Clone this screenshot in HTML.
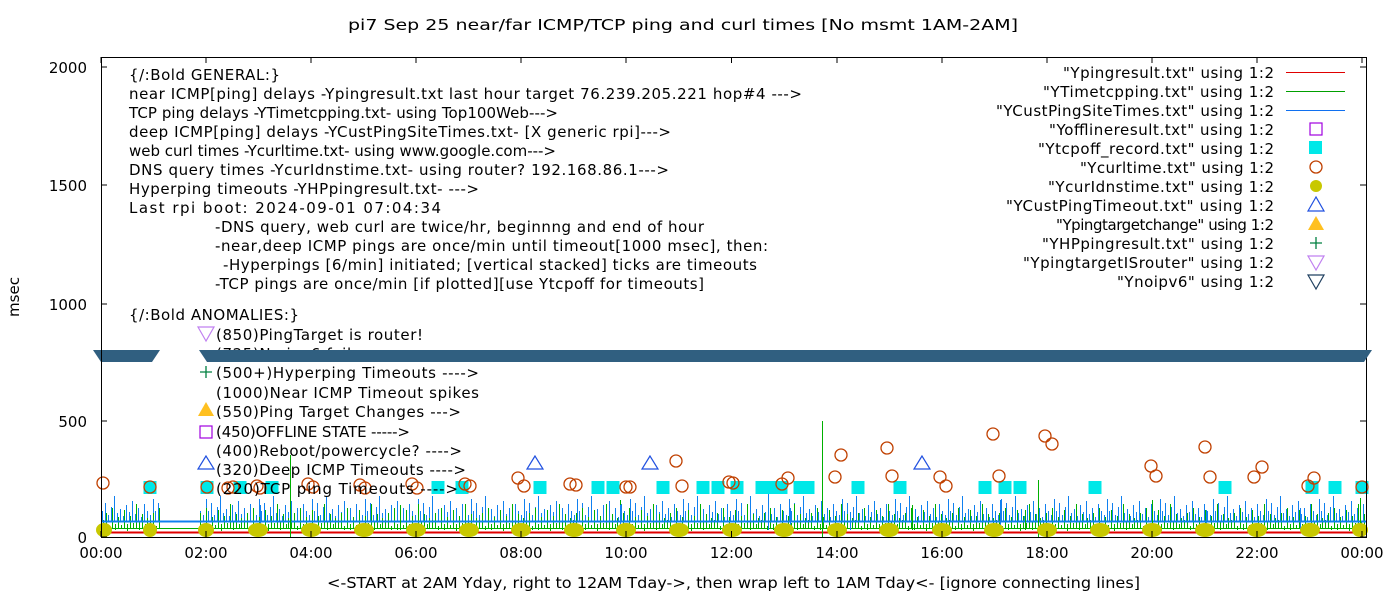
<!DOCTYPE html>
<html><head><meta charset="utf-8"><style>
body{margin:0;background:#fff;}
svg{display:block;font-family:"DejaVu Sans","Liberation Sans",sans-serif;}
text{font-size:15px;fill:#000;}
</style></head><body>
<svg width="1400" height="600" xmlns="http://www.w3.org/2000/svg">
<defs>
<pattern id="pb" patternUnits="userSpaceOnUse" x="101" y="0" width="53" height="600">
<path shape-rendering="crispEdges" d="M1.5,521v-10M4.5,521v-18M7.5,521v-6M10.5,521v-14M13.5,521v-25M16.5,521v-8M19.5,521v-12M22.5,521v-5M25.5,521v-16M28.5,521v-9M31.5,521v-20M34.5,521v-7M37.5,521v-13M40.5,521v-4M43.5,521v-17M46.5,521v-10M49.5,521v-6M52.5,521v-22" stroke="#1080f0" stroke-width="1"/>
</pattern>
<pattern id="pg" patternUnits="userSpaceOnUse" x="101" y="0" width="47" height="600">
<path shape-rendering="crispEdges" d="M2.5,528v-8M5.5,528v-15M8.5,530v-4M11.5,528v-20M14.5,530v-6M17.5,528v-11M20.5,528v-3M23.5,528v-18M26.5,531v-7M29.5,528v-12M32.5,528v-5M35.5,528v-24M38.5,530v-9M41.5,528v-14M44.5,528v-4M46.5,528v-10" stroke="#00b000" stroke-width="1"/>
</pattern>
</defs>
<rect width="1400" height="600" fill="#fff"/>
<text x="348" y="30" textLength="670" lengthAdjust="spacingAndGlyphs">pi7 Sep 25  near/far ICMP/TCP ping and curl times [No msmt 1AM-2AM]</text>
<text x="327" y="588" textLength="813" lengthAdjust="spacingAndGlyphs">&lt;-START at 2AM Yday, right to 12AM Tday-&gt;, then wrap left to 1AM Tday&lt;- [ignore connecting lines]</text>
<text transform="translate(19,297) rotate(-90)" text-anchor="middle">msec</text>

<rect x="101" y="480" width="59" height="57" fill="url(#pb)"/>
<rect x="199" y="480" width="1167" height="57" fill="url(#pb)"/>
<rect x="101" y="480" width="59" height="57" fill="url(#pg)"/>
<rect x="199" y="480" width="1167" height="57" fill="url(#pg)"/>
<g shape-rendering="crispEdges">
<line x1="101" y1="521.5" x2="1366" y2="521.5" stroke="#1080f0" stroke-width="2"/>
<line x1="101" y1="528.5" x2="1366" y2="528.5" stroke="#00b000" stroke-width="1"/>
<line x1="101" y1="532.5" x2="1366" y2="532.5" stroke="#e00000" stroke-width="2"/>
<path d="M822.5,537V421M290.5,537V455M1360.5,537V498M1038.5,537V480M1152.5,530V500M620.5,530V500M400.5,530V505M912.5,530V505M1025.5,530V510" stroke="#00b000"/>
<path d="M768.5,530V492M1000.5,530V500M790.5,530V508M1300.5,530V508M1206.5,530V510M850.5,530V512M620.5,530V505M260.5,530V505" stroke="#1080f0"/>
</g>
<g fill="#c8c800">
<ellipse cx="104" cy="530" rx="8" ry="7"/><ellipse cx="150" cy="530" rx="7" ry="7"/><ellipse cx="206" cy="530" rx="8" ry="7"/>
<ellipse cx="258" cy="530" rx="10" ry="7"/><ellipse cx="311" cy="530" rx="10" ry="7"/><ellipse cx="364" cy="530" rx="10" ry="7"/>
<ellipse cx="416" cy="530" rx="10" ry="7"/><ellipse cx="469" cy="530" rx="10" ry="7"/><ellipse cx="521" cy="530" rx="10" ry="7"/>
<ellipse cx="574" cy="530" rx="10" ry="7"/><ellipse cx="626" cy="530" rx="10" ry="7"/><ellipse cx="679" cy="530" rx="10" ry="7"/>
<ellipse cx="732" cy="530" rx="10" ry="7"/><ellipse cx="784" cy="530" rx="10" ry="7"/><ellipse cx="837" cy="530" rx="10" ry="7"/>
<ellipse cx="889" cy="530" rx="10" ry="7"/><ellipse cx="942" cy="530" rx="10" ry="7"/><ellipse cx="994" cy="530" rx="10" ry="7"/>
<ellipse cx="1047" cy="530" rx="10" ry="7"/><ellipse cx="1100" cy="530" rx="10" ry="7"/><ellipse cx="1152" cy="530" rx="10" ry="7"/>
<ellipse cx="1205" cy="530" rx="10" ry="7"/><ellipse cx="1257" cy="530" rx="10" ry="7"/><ellipse cx="1310" cy="530" rx="10" ry="7"/>
<ellipse cx="1360" cy="530" rx="8" ry="7"/>
</g>
<g fill="#00e8e8">
<rect x="143.5" y="481" width="13" height="13"/><rect x="200.5" y="481" width="13" height="13"/><rect x="233.5" y="481" width="13" height="13"/><rect x="265.5" y="481" width="13" height="13"/><rect x="431.5" y="481" width="13" height="13"/><rect x="455.5" y="481" width="13" height="13"/><rect x="533.5" y="481" width="13" height="13"/><rect x="591.5" y="481" width="13" height="13"/><rect x="606.5" y="481" width="13" height="13"/><rect x="656.5" y="481" width="13" height="13"/><rect x="696.5" y="481" width="13" height="13"/><rect x="711.5" y="481" width="13" height="13"/><rect x="730.5" y="481" width="13" height="13"/><rect x="755.5" y="481" width="13" height="13"/><rect x="761.5" y="481" width="13" height="13"/><rect x="774.5" y="481" width="13" height="13"/><rect x="793.5" y="481" width="13" height="13"/><rect x="801.5" y="481" width="13" height="13"/><rect x="851.5" y="481" width="13" height="13"/><rect x="893.5" y="481" width="13" height="13"/><rect x="978.5" y="481" width="13" height="13"/><rect x="998.5" y="481" width="13" height="13"/><rect x="1013.5" y="481" width="13" height="13"/><rect x="1088.5" y="481" width="13" height="13"/><rect x="1218.5" y="481" width="13" height="13"/><rect x="1305.5" y="481" width="13" height="13"/><rect x="1328.5" y="481" width="13" height="13"/><rect x="1355.5" y="481" width="13" height="13"/>
</g>
<g fill="none" stroke="#c04000" stroke-width="1.3">
<circle cx="103" cy="483" r="6"/><circle cx="150" cy="487" r="6"/><circle cx="207" cy="487" r="6"/><circle cx="228" cy="488" r="6"/><circle cx="233" cy="487" r="6"/><circle cx="257" cy="486" r="6"/><circle cx="260" cy="488" r="6"/><circle cx="308" cy="484" r="6"/><circle cx="313" cy="487" r="6"/><circle cx="360" cy="485" r="6"/><circle cx="365" cy="488" r="6"/><circle cx="412" cy="484" r="6"/><circle cx="417" cy="488" r="6"/><circle cx="465" cy="484" r="6"/><circle cx="470" cy="486" r="6"/><circle cx="518" cy="478" r="6"/><circle cx="524" cy="486" r="6"/><circle cx="570" cy="484" r="6"/><circle cx="576" cy="485" r="6"/><circle cx="626" cy="487" r="6"/><circle cx="630" cy="487" r="6"/><circle cx="676" cy="461" r="6"/><circle cx="682" cy="486" r="6"/><circle cx="729" cy="482" r="6"/><circle cx="733" cy="483" r="6"/><circle cx="782" cy="484" r="6"/><circle cx="788" cy="478" r="6"/><circle cx="835" cy="477" r="6"/><circle cx="841" cy="455" r="6"/><circle cx="887" cy="448" r="6"/><circle cx="892" cy="476" r="6"/><circle cx="940" cy="477" r="6"/><circle cx="946" cy="486" r="6"/><circle cx="993" cy="434" r="6"/><circle cx="999" cy="476" r="6"/><circle cx="1045" cy="436" r="6"/><circle cx="1052" cy="444" r="6"/><circle cx="1151" cy="466" r="6"/><circle cx="1156" cy="476" r="6"/><circle cx="1205" cy="447" r="6"/><circle cx="1210" cy="477" r="6"/><circle cx="1254" cy="477" r="6"/><circle cx="1262" cy="467" r="6"/><circle cx="1308" cy="486" r="6"/><circle cx="1314" cy="478" r="6"/><circle cx="1362" cy="487" r="6"/>
</g>
<g fill="none" stroke="#2050e0" stroke-width="1.2">
<polygon points="535,456 527,469 543,469"/><polygon points="650,456 642,469 658,469"/><polygon points="922,456 914,469 930,469"/>
</g>
<polygon points="93,350 160,350 152,362 101,362" fill="#305f80"/>

<rect x="101.5" y="57.5" width="1265" height="480" fill="none" stroke="#000"/>
<path d="M101,537h6M101,421h6M101,304h6M101,185h6M101,67h6M1366,537h-6M1366,421h-6M1366,304h-6M1366,185h-6M1366,67h-6
M101,537v-6M206,537v-6M311,537v-6M416,537v-6M521,537v-6M626,537v-6M731.5,537v-6M837,537v-6M942,537v-6M1047,537v-6M1152,537v-6M1257,537v-6M1362,537v-6
M101,57v6M206,57v6M311,57v6M416,57v6M521,57v6M626,57v6M731.5,57v6M837,57v6M942,57v6M1047,57v6M1152,57v6M1257,57v6M1362,57v6" stroke="#000"/>
<g text-anchor="end">
<text x="87" y="73">2000</text><text x="87" y="191">1500</text><text x="87" y="310">1000</text><text x="87" y="427">500</text><text x="87" y="543">0</text>
</g>
<g text-anchor="middle">
<text x="101" y="558">00:00</text><text x="206" y="558">02:00</text><text x="311" y="558">04:00</text><text x="416" y="558">06:00</text><text x="521" y="558">08:00</text><text x="626" y="558">10:00</text><text x="731.5" y="558">12:00</text><text x="837" y="558">14:00</text><text x="942" y="558">16:00</text><text x="1047" y="558">18:00</text><text x="1152" y="558">20:00</text><text x="1257" y="558">22:00</text><text x="1362" y="558">00:00</text>
</g>

<g lengthAdjust="spacingAndGlyphs">
<text x="129" y="80" textLength="151">{/:Bold GENERAL:}</text>
<text x="129" y="99" textLength="673">near ICMP[ping] delays -Ypingresult.txt last hour target 76.239.205.221 hop#4 ---&gt;</text>
<text x="129" y="118" textLength="429">TCP ping delays -YTimetcpping.txt- using Top100Web---&gt;</text>
<text x="129" y="137" textLength="542">deep ICMP[ping] delays -YCustPingSiteTimes.txt- [X generic rpi]---&gt;</text>
<text x="129" y="156" textLength="427">web curl times -Ycurltime.txt- using www.google.com---&gt;</text>
<text x="129" y="175" textLength="540">DNS query times -YcurIdnstime.txt- using router? 192.168.86.1---&gt;</text>
<text x="129" y="194" textLength="350">Hyperping timeouts -YHPpingresult.txt- ---&gt;</text>
<text x="129" y="213" textLength="312">Last rpi boot: 2024-09-01 07:04:34</text>
<text x="215" y="232" textLength="489">-DNS query, web curl are twice/hr, beginnng and end of hour</text>
<text x="215" y="251" textLength="553">-near,deep ICMP pings are once/min until timeout[1000 msec], then:</text>
<text x="223" y="270" textLength="534">-Hyperpings [6/min] initiated; [vertical stacked] ticks are timeouts</text>
<text x="215" y="289" textLength="489">-TCP pings are once/min [if plotted][use Ytcpoff for timeouts]</text>
<text x="129" y="320" textLength="170">{/:Bold ANOMALIES:}</text>
<text x="216" y="340" textLength="207">(850)PingTarget is router!</text>
<text x="216" y="359" textLength="170">(725)No ipv6 failures</text>
<text x="216" y="378" textLength="263">(500+)Hyperping Timeouts ----&gt;</text>
<text x="216" y="398" textLength="263">(1000)Near ICMP Timeout spikes</text>
<text x="216" y="417" textLength="245">(550)Ping Target Changes ---&gt;</text>
<text x="216" y="437" textLength="194">(450)OFFLINE STATE -----&gt;</text>
<text x="216" y="456" textLength="246">(400)Reboot/powercycle? ----&gt;</text>
<text x="216" y="475" textLength="250">(320)Deep ICMP Timeouts ----&gt;</text>
<text x="216" y="494" textLength="242">(220)TCP ping Timeouts ----&gt;</text>
</g>
<g lengthAdjust="spacingAndGlyphs">
<text x="1063" y="78" textLength="211">"Ypingresult.txt" using 1:2</text>
<text x="1043" y="97" textLength="231">"YTimetcpping.txt" using 1:2</text>
<text x="996" y="116" textLength="278">"YCustPingSiteTimes.txt" using 1:2</text>
<text x="1049" y="135" textLength="225">"Yofflineresult.txt" using 1:2</text>
<text x="1038" y="154" textLength="236">"Ytcpoff_record.txt" using 1:2</text>
<text x="1080" y="173" textLength="194">"Ycurltime.txt" using 1:2</text>
<text x="1048" y="192" textLength="226">"YcurIdnstime.txt" using 1:2</text>
<text x="1006" y="211" textLength="268">"YCustPingTimeout.txt" using 1:2</text>
<text x="1056" y="230" textLength="218">"Ypingtargetchange" using 1:2</text>
<text x="1042" y="249" textLength="232">"YHPpingresult.txt" using 1:2</text>
<text x="1023" y="268" textLength="251">"YpingtargetISrouter" using 1:2</text>
<text x="1117" y="287" textLength="157">"Ynoipv6" using 1:2</text>
</g>
<g shape-rendering="crispEdges">
<line x1="1286" y1="72.5" x2="1345" y2="72.5" stroke="#e00000"/>
<line x1="1286" y1="91.5" x2="1345" y2="91.5" stroke="#00a000"/>
<line x1="1286" y1="110.5" x2="1345" y2="110.5" stroke="#1070f0"/>
</g>
<rect x="1310" y="123" width="12" height="12" fill="none" stroke="#a000e0" stroke-width="1.2"/>
<rect x="1309" y="141" width="13" height="13" fill="#00e8e8"/>
<circle cx="1316" cy="167" r="6" fill="none" stroke="#c04000" stroke-width="1.3"/>
<circle cx="1316" cy="186" r="6" fill="#c8c800"/>
<polygon points="1316,197 1308,211 1324,211" fill="none" stroke="#2050e0" stroke-width="1.2"/>
<polygon points="1316,216 1308,230 1324,230" fill="#ffc020"/>
<path d="M1310,243h12M1316,237v12" stroke="#008040" stroke-width="1.3"/>
<polygon points="1316,270 1308,256 1324,256" fill="none" stroke="#c080f0" stroke-width="1.2"/>
<polygon points="1316,289 1308,275 1324,275" fill="none" stroke="#204060" stroke-width="1.2"/>
<polygon points="206,341 198,327 214,327" fill="none" stroke="#c080f0" stroke-width="1.2"/>
<path d="M200,372h12M206,366v12" stroke="#008040" stroke-width="1.3"/>
<polygon points="206,402 198,416 214,416" fill="#ffc020"/>
<rect x="200" y="426" width="12" height="12" fill="none" stroke="#a000e0" stroke-width="1.2"/>
<polygon points="206,456 198,469 214,469" fill="none" stroke="#2050e0" stroke-width="1.2"/>
<polygon points="199,350 1372,350 1364,362 207,362" fill="#305f80"/>
</svg>
</body></html>
